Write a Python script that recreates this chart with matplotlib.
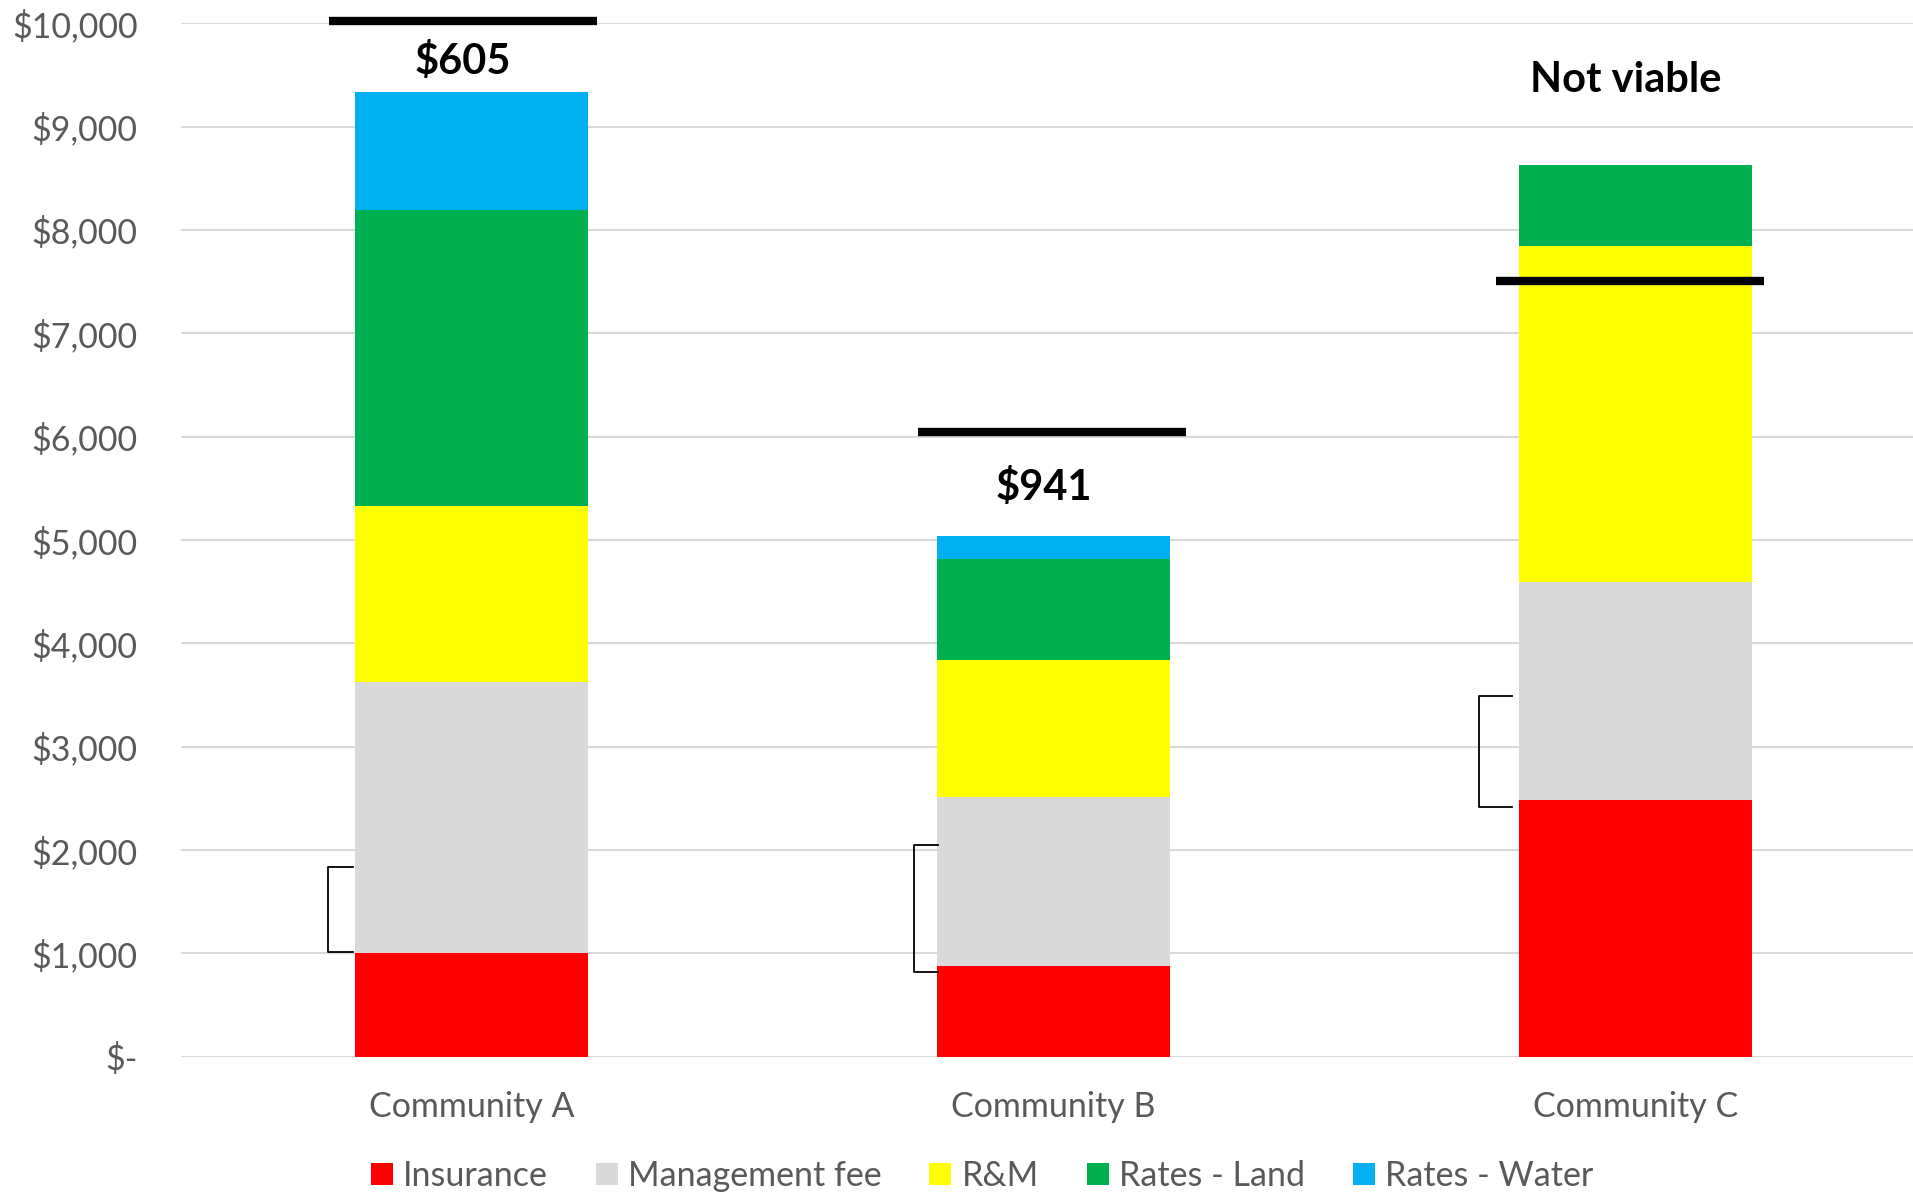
import matplotlib
matplotlib.use("Agg")
import matplotlib.pyplot as plt
from matplotlib.patches import Patch
from matplotlib.ticker import FuncFormatter

plt.rcParams['font.family'] = ['Lato', 'DejaVu Sans']

categories = ["Community A", "Community B", "Community C"]
series_names = ["Insurance", "Management fee", "R&M", "Rates - Land", "Rates - Water"]
insurance = [1005, 875, 2480]
management_fee = [2620, 1640, 2115]
r_and_m = [1700, 1320, 3245]
rates_land = [2870, 980, 790]
rates_water = [1135, 225, 0]
benchmark = [10020, 6045, 7510]
label_texts = ["$605", "$941", "Not viable"]
label_values = [9630, 5510, 9450]
bracket_low = [1015, 815, 2420]
bracket_high = [1830, 2045, 3485]
colors = ["#FF0000", "#D9D9D9", "#FFFF00", "#00B050", "#00B0F0"]

W, H = 1913, 1193
fig = plt.figure(figsize=(W / 100, H / 100), dpi=100)
ax = fig.add_axes([180.6 / W, 1 - 1056.6 / H, 1 - 180.6 / W, (1056.6 - 23.2) / H])

x = list(range(len(categories)))
bottom = [0] * len(categories)
for name, vals, c in zip(series_names, [insurance, management_fee, r_and_m, rates_land, rates_water], colors):
    ax.bar(x, vals, width=0.4, bottom=bottom, color=c, label=name, zorder=2)
    bottom = [b + v for b, v in zip(bottom, vals)]

# benchmark lines
line_off = [(-0.245, 0.215), (-0.232, 0.228), (-0.239, 0.221)]
for xi, b, (o0, o1) in zip(x, benchmark, line_off):
    ax.plot([xi + o0, xi + o1], [b, b], color="black", lw=6, solid_capstyle="butt", zorder=4, clip_on=False)

text_off = [-0.015, -0.017, -0.017]
for xi, t, v, o in zip(x, label_texts, label_values, text_off):
    ax.text(xi + o, v, t, ha="center", va="center", fontsize=30, fontweight="bold", color="black", zorder=5)

# brackets
bx = [(-0.247, -0.203), (-0.239, -0.199), (-0.268, -0.212)]
for xi, (x0, x1), lo, hi in zip(x, bx, bracket_low, bracket_high):
    ax.plot([xi + x1, xi + x0, xi + x0, xi + x1], [hi, hi, lo, lo], color="black", lw=1.3, zorder=4)

ax.set_ylim(0, 10000)
ax.set_xlim(-0.5, 2.477)
ax.set_yticks(range(0, 10001, 1000))
ax.yaxis.set_major_formatter(FuncFormatter(lambda v, p: "$-" if v == 0 else f"${v:,.0f}"))
ax.set_xticks(x)
ax.set_xticklabels(categories)
ax.tick_params(axis="both", length=0, labelsize=24.5, colors="#595959")
ax.tick_params(axis="x", pad=25)
ax.tick_params(axis="y", pad=31)
ax.grid(axis="y", color="#D9D9D9", lw=1.5, zorder=0)
ax.set_axisbelow(True)
for s in ax.spines.values():
    s.set_visible(False)

handles = [Patch(facecolor=c, label=n) for n, c in zip(series_names, colors)]
leg = fig.legend(handles=handles, loc="center", bbox_to_anchor=(982 / W, 1 - 1176 / H), ncol=5,
                 frameon=False, fontsize=24.5, handlelength=0.65, handleheight=0.65, handletextpad=0.3,
                 columnspacing=1.4, labelcolor="#595959")

fig.savefig("out.png", dpi=100)
